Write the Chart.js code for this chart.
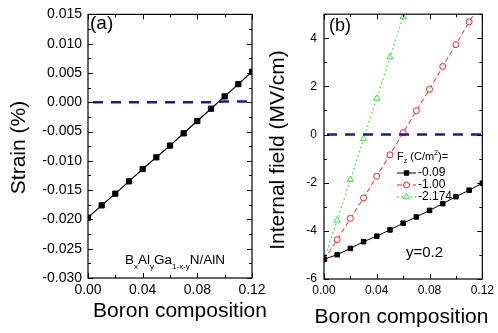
<!DOCTYPE html>
<html><head><meta charset="utf-8">
<script src="https://cdn.jsdelivr.net/npm/chart.js@4.4.0/dist/chart.umd.min.js"></script>
<style>
html,body{margin:0;padding:0;background:#fff;width:498px;height:333px;overflow:hidden;}
canvas{position:absolute;top:0;}
#ca{left:0px} #cb{left:255px}
</style></head><body>
<canvas id="ca" width="270" height="333"></canvas>
<canvas id="cb" width="243" height="333"></canvas>
<script>
// ---------- data ----------
const boron = [0, 0.01, 0.02, 0.03, 0.04, 0.05, 0.06, 0.07, 0.08, 0.09, 0.10, 0.11, 0.12];
const strain = [-0.0197, -0.0176, -0.0156, -0.0135, -0.0114, -0.0094, -0.0074, -0.0053, -0.0032, -0.0011, 0.0010, 0.0031, 0.0052];
const strainZero = [0, 0, 0, 0, 0, 0, 0, 0, 0, 0, 0.00015, 0.00015, 0.00015];
const field009 = [-5.18, -4.99, -4.73, -4.45, -4.22, -3.96, -3.68, -3.42, -3.15, -2.87, -2.58, -2.31, -2.02];
const field100 = [-5.18, -4.37, -3.48, -2.63, -1.73, -0.84, 0.08, 0.99, 1.88, 2.83, 3.74, 4.68, 5.6];
const field2174 = [-5.18, -3.56, -1.87, -0.18, 1.50, 3.22, 4.90];
const fieldZero = [0, 0, 0, 0, 0, 0, 0, 0, 0, 0, 0, 0, 0];
const xTickLabels = ['0.00', '0.04', '0.08', '0.12'];
const strainTickLabels = ['-0.030', '-0.025', '-0.020', '-0.015', '-0.010', '-0.005', '0.000', '0.005', '0.010', '0.015'];
const fieldTickLabels = ['-6', '-4', '-2', '0', '2', '4'];
const legendLabels = ['-0.09', '-1.00', '-2.174'];

const FONT = '"Liberation Sans", Arial, sans-serif';
const NAVY = '#1a1aa0';
const RED = '#ff1a1a';
const GREEN = '#2ee82e';

function pts(xs, ys) { return ys.map((y, i) => ({x: xs[i], y: y})); }

function tickScale(labels, fontSize, pad) {
  return {
    afterBuildTicks: s => { s.ticks = labels.map(l => ({value: parseFloat(l)})); },
    ticks: {
      autoSkip: false, maxRotation: 0, padding: pad, color: '#000',
      font: {family: FONT, size: fontSize},
      callback: (v, i) => labels[i]
    },
    grid: {display: false, drawTicks: false},
    border: {display: false}
  };
}

// frame + inward major/minor ticks
const frameTicks = {
  id: 'frameTicks',
  afterDatasetsDraw(chart, args, o) {
    const ctx = chart.ctx, a = chart.chartArea;
    const xs = chart.scales.x, ys = chart.scales.y;
    ctx.save();
    ctx.strokeStyle = '#000';
    ctx.lineWidth = 1.2;
    ctx.strokeRect(a.left, a.top, a.right - a.left, a.bottom - a.top);
    ctx.lineWidth = 1;
    const nx = Math.round((xs.max - xs.min) / o.xStep);
    for (let i = 0; i <= nx; i++) {
      const v = xs.min + i * o.xStep;
      const p = Math.round(xs.getPixelForValue(v)) + 0.5;
      const len = (i % 2 === 0) ? 5 : 3;
      ctx.beginPath();
      ctx.moveTo(p, a.bottom); ctx.lineTo(p, a.bottom - len);
      ctx.moveTo(p, a.top); ctx.lineTo(p, a.top + len);
      ctx.stroke();
    }
    const ny = Math.round((ys.max - ys.min) / o.yStep);
    for (let i = 0; i <= ny; i++) {
      const v = ys.min + i * o.yStep;
      const p = Math.round(ys.getPixelForValue(v)) + 0.5;
      const len = (i % 2 === 0) ? 5 : 3;
      ctx.beginPath();
      ctx.moveTo(a.left, p); ctx.lineTo(a.left + len, p);
      ctx.moveTo(a.right, p); ctx.lineTo(a.right - len, p);
      ctx.stroke();
    }
    ctx.restore();
  }
};

function drawRuns(ctx, runs, x, baseline) {
  for (const r of runs) {
    ctx.font = r.size + 'px ' + FONT;
    ctx.fillText(r.t, x, baseline + (r.dy || 0));
    x += ctx.measureText(r.t).width;
  }
  return x;
}

// ---------- panel (a) ----------
const textsA = {
  id: 'textsA',
  afterDraw(chart) {
    const ctx = chart.ctx;
    ctx.save();
    ctx.fillStyle = '#000';
    ctx.textAlign = 'left';
    ctx.textBaseline = 'alphabetic';
    ctx.font = '19px ' + FONT;
    ctx.fillText('(a)', 90, 29);
    drawRuns(ctx, [
      {t: 'B', size: 13.5}, {t: 'x', size: 8, dy: 5.5},
      {t: 'Al', size: 13.5}, {t: 'y', size: 8, dy: 5.5},
      {t: 'Ga', size: 13.5}, {t: '1-x-y', size: 8, dy: 5.5},
      {t: 'N/AlN', size: 13.5}
    ], 125, 263.5);
    ctx.textAlign = 'center';
    ctx.font = '21px ' + FONT;
    ctx.fillText('Boron composition', 180, 317);
    ctx.translate(25, 147.5);
    ctx.rotate(-Math.PI / 2);
    ctx.fillText('Strain (%)', 0, 0);
    ctx.restore();
  }
};

new Chart(document.getElementById('ca'), {
  type: 'line',
  data: {
    datasets: [
      {data: pts(boron, strainZero), borderColor: NAVY, borderWidth: 2.5, borderDash: [10, 8], borderDashOffset: 13,
       pointRadius: 0, tension: 0, clip: 0},
      {data: pts(boron, strain), borderColor: '#000', borderWidth: 1.2, pointStyle: 'rect', pointRadius: 3.7,
       pointBackgroundColor: '#000', pointBorderColor: '#000', pointBorderWidth: 1, tension: 0, clip: 0}
    ]
  },
  options: {
    responsive: false, animation: false, devicePixelRatio: 1,
    layout: {padding: {left: 0, right: 18, top: 10, bottom: 0}},
    plugins: {legend: {display: false}, tooltip: {enabled: false}, frameTicks: {xStep: 0.02, yStep: 0.0025}},
    scales: {
      x: Object.assign({type: 'linear', min: 0, max: 0.12, afterFit: s => { s.height = 55; }},
        tickScale(xTickLabels, 14, 4)),
      y: Object.assign({type: 'linear', min: -0.03, max: 0.015, afterFit: s => { s.width = 88; }},
        tickScale(strainTickLabels, 14, 6))
    }
  },
  plugins: [frameTicks, textsA]
});

// ---------- panel (b) ----------
const textsB = {
  id: 'textsB',
  afterDraw(chart) {
    const ctx = chart.ctx;
    ctx.save();
    ctx.fillStyle = '#000';
    ctx.textAlign = 'left';
    ctx.textBaseline = 'alphabetic';
    ctx.font = '18px ' + FONT;
    ctx.fillText('(b)', 74, 31);
    ctx.font = '15px ' + FONT;
    ctx.fillText('y=0.2', 151, 257);
    drawRuns(ctx, [
      {t: 'F', size: 11}, {t: 'z', size: 7, dy: 3},
      {t: ' (C/m', size: 11}, {t: '2', size: 7, dy: -5},
      {t: ')=', size: 11}
    ], 142, 160);
    // legend rows
    const rows = [
      {ds: chart.data.datasets[1], y: 173},
      {ds: chart.data.datasets[2], y: 185},
      {ds: chart.data.datasets[3], y: 197}
    ];
    rows.forEach((r, i) => {
      ctx.save();
      ctx.strokeStyle = r.ds.borderColor;
      ctx.lineWidth = r.ds.borderWidth;
      ctx.setLineDash(r.ds.borderDash || []);
      ctx.beginPath();
      ctx.moveTo(142, r.y); ctx.lineTo(161, r.y);
      ctx.stroke();
      ctx.restore();
      ctx.save();
      ctx.fillStyle = r.ds.pointBackgroundColor;
      ctx.strokeStyle = r.ds.pointBorderColor;
      ctx.lineWidth = r.ds.pointBorderWidth;
      Chart.helpers.drawPoint(ctx, {pointStyle: r.ds.pointStyle, radius: r.ds.pointRadius, rotation: 0, borderWidth: r.ds.pointBorderWidth}, 151.5, r.y);
      ctx.restore();
      ctx.fillStyle = '#000';
      ctx.textBaseline = 'middle';
      ctx.font = '12px ' + FONT;
      ctx.fillText(legendLabels[i], 163, r.y);
    });
    ctx.textBaseline = 'alphabetic';
    ctx.textAlign = 'center';
    ctx.font = '21px ' + FONT;
    ctx.fillText('Boron composition', 146.5, 323);
    ctx.translate(29, 150);
    ctx.rotate(-Math.PI / 2);
    ctx.fillText('Internal field (MV/cm)', 0, 0);
    ctx.restore();
  }
};

new Chart(document.getElementById('cb'), {
  type: 'line',
  data: {
    datasets: [
      {data: pts(boron, fieldZero), borderColor: NAVY, borderWidth: 2.5, borderDash: [10, 8], borderDashOffset: 15,
       pointRadius: 0, tension: 0, clip: 0},
      {data: pts(boron, field009), borderColor: '#000', borderWidth: 1, pointStyle: 'rect', pointRadius: 3.2,
       pointBackgroundColor: '#000', pointBorderColor: '#000', pointBorderWidth: 1, tension: 0, clip: 0},
      {data: pts(boron, field100), borderColor: RED, borderWidth: 1, borderDash: [5, 3], pointStyle: 'circle', pointRadius: 3,
       pointBackgroundColor: '#fff', pointBorderColor: RED, pointBorderWidth: 1, tension: 0, clip: 0},
      {data: pts(boron, field2174), borderColor: GREEN, borderWidth: 1.3, borderDash: [1.5, 3], pointStyle: 'triangle', pointRadius: 3.6,
       pointBackgroundColor: '#fff', pointBorderColor: GREEN, pointBorderWidth: 1, tension: 0, clip: 0}
    ]
  },
  options: {
    responsive: false, animation: false, devicePixelRatio: 1,
    layout: {padding: {left: 0, right: 11, top: 10.5, bottom: 0}},
    plugins: {legend: {display: false}, tooltip: {enabled: false}, frameTicks: {xStep: 0.02, yStep: 1}},
    scales: {
      x: Object.assign({type: 'linear', min: 0, max: 0.12, afterFit: s => { s.height = 54; }},
        tickScale(xTickLabels, 12, 4)),
      y: Object.assign({type: 'linear', min: -6, max: 5, afterFit: s => { s.width = 69; }},
        tickScale(fieldTickLabels, 12, 7))
    }
  },
  plugins: [frameTicks, textsB]
});
</script>
</body></html>
